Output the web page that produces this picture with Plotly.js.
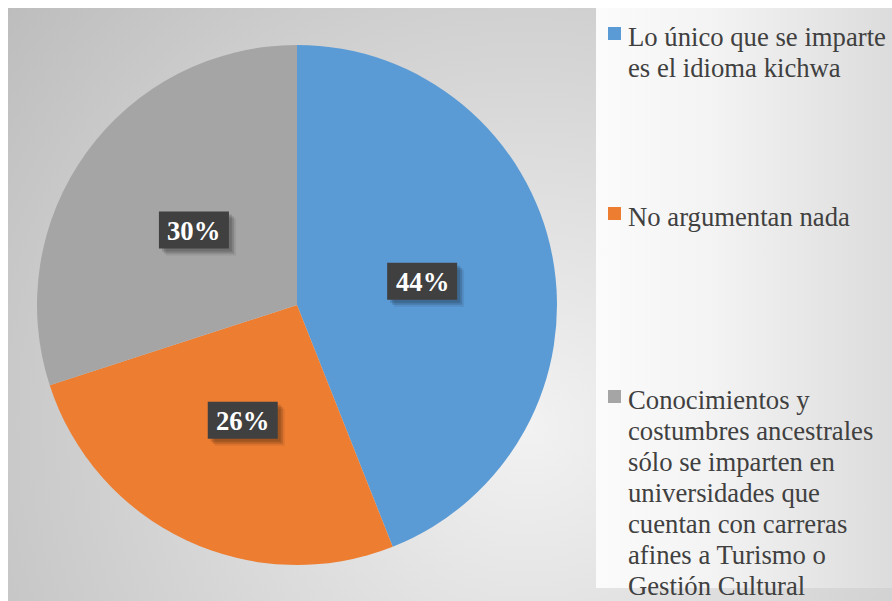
<!DOCTYPE html>
<html>
<head>
<meta charset="utf-8">
<script src="https://cdn.plot.ly/plotly-3.0.1.min.js"></script>
<style>
  html, body { margin: 0; padding: 0; background: #ffffff; }
  #wrap { position: relative; width: 892px; height: 601px; overflow: hidden; }
  #bg1 { position: absolute; left: 8px; top: 8px; width: 884px; height: 593px;
         background: radial-gradient(circle farthest-corner at 520px 420px, #f2f2f2 0%, #bdbdbd 100%); }
  #bg2 { position: absolute; left: 596px; top: 8px; width: 296px; height: 580px;
         background: linear-gradient(to right, #fbfbfb 0%, #f3f3f3 40%, #dcdcdc 100%); }
  #chart { position: absolute; left: 0; top: 0; width: 892px; height: 601px; }
</style>
</head>
<body>
<div id="wrap">
  <div id="bg1"></div>
  <div id="bg2"></div>
  <div id="chart"></div>
</div>
<script>
// ---- data ----
const labels = [
  "Lo único que se imparte<br>es el idioma kichwa",
  "No argumentan nada",
  "Conocimientos y<br>costumbres ancestrales<br>sólo se imparten en<br>universidades que<br>cuentan con carreras<br>afines a Turismo o<br>Gestión Cultural"
];
const values = [44, 26, 30];
const colors = ["#5B9BD5", "#ED7D31", "#A5A5A5"];

// ---- geometry (layout only) ----
const W = 892, H = 601;
const cxPx = 297, cyPx = 305, R = 260;
const FONT = "Liberation Serif, Times New Roman, serif";
const px2x = p => p / W;
const px2y = p => 1 - p / H;
const dom = {
  x: [px2x(cxPx - R), px2x(cxPx + R)],
  y: [px2y(cyPx + R), px2y(cyPx - R)]
};

const trace = {
  type: "pie",
  values: values,
  labels: labels,
  marker: { colors: colors, line: { width: 0 } },
  sort: false,
  direction: "clockwise",
  rotation: 0,
  textinfo: "none",
  hoverinfo: "label+percent",
  showlegend: false,
  domain: dom
};

const annotations = [];
const shapes = [];

// data labels in dark boxes, placed on each slice's mid-angle
const total = values.reduce((a, b) => a + b, 0);
const boxW = 70, boxH = 37;
let cum = 0;
values.forEach((v, i) => {
  const mid = (cum + v / 2) / total * 2 * Math.PI;
  cum += v;
  const r = 0.49 * R;
  const px = cxPx + r * Math.sin(mid);
  const py = cyPx - r * Math.cos(mid);
  // soft shadow
  [[7, 0.08], [5, 0.14], [3, 0.14]].forEach(([o, a]) => {
    shapes.push({
      type: "rect", xref: "paper", yref: "paper", layer: "above",
      x0: px2x(px - boxW / 2 + o), x1: px2x(px + boxW / 2 + o),
      y0: px2y(py + boxH / 2 + o), y1: px2y(py - boxH / 2 + o),
      fillcolor: "rgba(0,0,0," + a + ")", line: { width: 0 }
    });
  });
  shapes.push({
    type: "rect", xref: "paper", yref: "paper", layer: "above",
    x0: px2x(px - boxW / 2), x1: px2x(px + boxW / 2),
    y0: px2y(py + boxH / 2), y1: px2y(py - boxH / 2),
    fillcolor: "#404040", line: { width: 0 }
  });
  annotations.push({
    xref: "paper", yref: "paper", x: px2x(px), y: px2y(py + 1),
    xanchor: "center", yanchor: "middle",
    text: "<b>" + Math.round(v / total * 100) + "%</b>", showarrow: false,
    font: { family: FONT, size: 26.7, color: "#ffffff" }
  });
});

// legend (one annotation per text line, Excel-like line spacing)
const legendFirstLineY = [37, 217, 400];
const lineGap = 31;
labels.forEach((lab, i) => {
  const yc = legendFirstLineY[i];
  shapes.push({
    type: "rect", xref: "paper", yref: "paper",
    x0: px2x(608), x1: px2x(621),
    y0: px2y(yc + 3), y1: px2y(yc - 10),
    fillcolor: colors[i], line: { width: 0 }
  });
  lab.split("<br>").forEach((line, k) => {
    annotations.push({
      xref: "paper", yref: "paper", x: px2x(626), y: px2y(yc + k * lineGap),
      xanchor: "left", yanchor: "middle", align: "left",
      text: line, showarrow: false,
      font: { family: FONT, size: 26.7, color: "#404040" }
    });
  });
});

const layout = {
  width: W, height: H,
  margin: { l: 0, r: 0, t: 0, b: 0 },
  paper_bgcolor: "rgba(0,0,0,0)",
  plot_bgcolor: "rgba(0,0,0,0)",
  showlegend: false,
  annotations: annotations,
  shapes: shapes
};

Plotly.newPlot("chart", [trace], layout, { displayModeBar: false, staticPlot: true });
</script>
</body>
</html>
